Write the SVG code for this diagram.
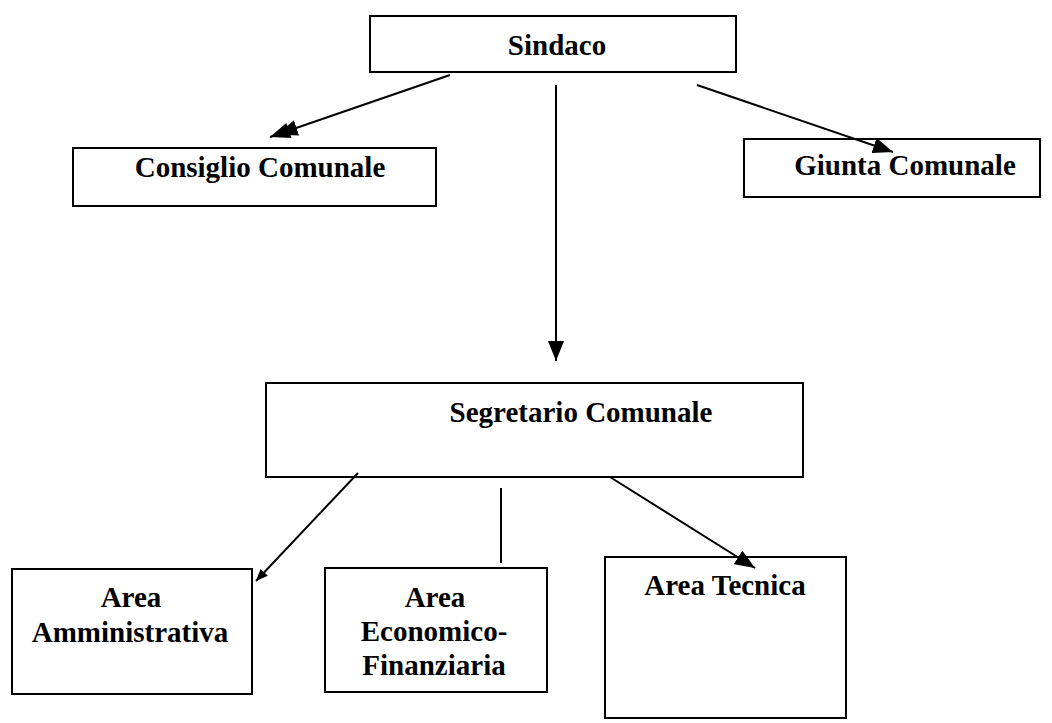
<svg xmlns="http://www.w3.org/2000/svg" width="1052" height="723" viewBox="0 0 1052 723">
<style>
.box{fill:#fff;stroke:#000;stroke-width:2}
text{font-family:"Liberation Serif","Times New Roman",Times,"DejaVu Serif",serif;font-weight:bold;font-size:29px;fill:#000;text-anchor:middle}
.ln{stroke:#000;stroke-width:2;fill:none}
</style>
<defs>
<marker id="ah" markerUnits="userSpaceOnUse" markerWidth="22" markerHeight="16" refX="20" refY="8" orient="auto"><path d="M0,0 L20,8 L0,16 z" fill="#000"/></marker>
<marker id="ah2" markerUnits="userSpaceOnUse" markerWidth="30" markerHeight="16" refX="28" refY="8" orient="auto"><path d="M0,0 L20,8 L0,16 z M8,0 L28,8 L8,16 z" fill="#000"/></marker>
<marker id="ahs" markerUnits="userSpaceOnUse" markerWidth="14" markerHeight="10" refX="12" refY="5" orient="auto"><path d="M0,0 L12,5 L0,10 z" fill="#000"/></marker>
</defs>
<g id="sindaco"><rect class="box" x="370" y="16" width="366" height="56"/><text x="557" y="55" font-family="Liberation Serif, serif">Sindaco</text></g>
<g id="consiglio"><rect class="box" x="73" y="148" width="363" height="58"/><text x="260" y="177" font-family="Liberation Serif, serif">Consiglio Comunale</text></g>
<g id="giunta"><rect class="box" x="744" y="139" width="296" height="58"/><text x="905" y="175" font-family="Liberation Serif, serif">Giunta Comunale</text></g>
<g id="segretario"><rect class="box" x="266" y="383" width="537" height="94"/><text x="581" y="422" font-family="Liberation Serif, serif">Segretario Comunale</text></g>
<g id="amministrativa"><rect class="box" x="12" y="569" width="240" height="125"/><text x="131" y="607" font-family="Liberation Serif, serif">Area</text><text x="130" y="642" font-family="Liberation Serif, serif">Amministrativa</text></g>
<g id="economico"><rect class="box" x="325" y="568" width="222" height="124"/><text x="435" y="607" font-family="Liberation Serif, serif">Area</text><text x="434" y="641" font-family="Liberation Serif, serif">Economico-</text><text x="434" y="675" font-family="Liberation Serif, serif">Finanziaria</text></g>
<g id="tecnica"><rect class="box" x="605" y="557" width="241" height="161"/><text x="725" y="595" font-family="Liberation Serif, serif">Area Tecnica</text></g>
<g id="connectors">
<line class="ln" x1="450" y1="75" x2="270" y2="137" marker-end="url(#ah2)"/>
<line class="ln" x1="697" y1="85" x2="893" y2="152" marker-end="url(#ah)"/>
<line class="ln" x1="556" y1="85" x2="556" y2="361" marker-end="url(#ah)"/>
<line class="ln" x1="358" y1="473" x2="256" y2="581" marker-end="url(#ahs)"/>
<line class="ln" x1="501" y1="488" x2="501" y2="563"/>
<line class="ln" x1="610" y1="477" x2="755" y2="568" marker-end="url(#ah)"/>
</g>
</svg>
